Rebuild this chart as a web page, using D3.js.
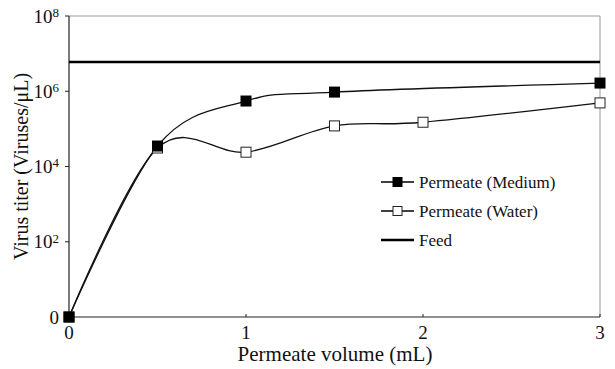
<!DOCTYPE html>
<html>
<head>
<meta charset="utf-8">
<script src="https://cdn.jsdelivr.net/npm/d3@7"></script>
<style>
  body { margin: 0; background: #fff; }
  text { font-family: "Liberation Serif", "Times New Roman", serif; fill: #111; }
</style>
</head>
<body>
<div id="chart"></div>
<script>
const volumes = [0, 0.5, 1, 1.5, 2, 3];
const mediumX = [0, 0.5, 1, 1.5, 3];
const mediumTiter = [1, 3.5e4, 5.5e5, 9.5e5, 1.65e6];
const waterX = [0, 0.5, 1, 1.5, 2, 3];
const waterTiter = [1, 3.1e4, 2.4e4, 1.2e5, 1.5e5, 4.9e5];
const feedTiter = 6e6;
const yTicks = [1, 1e2, 1e4, 1e6, 1e8];
const xTicks = [0, 1, 2, 3];
const legendLabels = ["Permeate (Medium)", "Permeate (Water)", "Feed"];

const W = 615, H = 369;
const margin = { top: 16, right: 15, bottom: 52, left: 69 };
const width = W - margin.left - margin.right;
const height = H - margin.top - margin.bottom;

const svg = d3.select("#chart").append("svg")
  .attr("width", W).attr("height", H);
const g = svg.append("g")
  .attr("transform", `translate(${margin.left},${margin.top})`);

const x = d3.scaleLinear().domain([0, 3]).range([0, width]);
const y = d3.scaleLog().domain([1, 1e8]).range([height, 0]);

// frame (top/right grey)
g.append("path")
  .attr("d", `M0,0H${width}V${height}`)
  .attr("fill", "none").attr("stroke", "#999").attr("stroke-width", 1);

// y axis
g.append("line").attr("x1", 0).attr("x2", 0).attr("y1", 0).attr("y2", height)
  .attr("stroke", "#222").attr("stroke-width", 1.2);
const yt = g.selectAll(".ytick").data(yTicks).enter().append("g")
  .attr("transform", d => `translate(0,${y(d)})`);
yt.append("line").attr("x1", -4).attr("x2", 0).attr("stroke", "#222");
const ylab = yt.append("text")
  .attr("x", -10).attr("dy", "0.35em")
  .attr("text-anchor", "end").style("font-size", "19px");
ylab.each(function(d) {
  const t = d3.select(this);
  if (d === 1) { t.text("0"); return; }
  t.append("tspan").text("10");
  t.append("tspan").attr("dy", "-0.45em").style("font-size", "13px")
    .text(Math.round(Math.log10(d)));
});

// x axis
g.append("line").attr("x1", 0).attr("x2", width).attr("y1", height).attr("y2", height)
  .attr("stroke", "#222").attr("stroke-width", 1.2);
const xt = g.selectAll(".xtick").data(xTicks).enter().append("g")
  .attr("transform", d => `translate(${x(d)},${height})`);
xt.append("line").attr("y1", -3).attr("y2", 0).attr("stroke", "#222");
xt.append("text").attr("y", 22).attr("text-anchor", "middle")
  .style("font-size", "19px").text(d => d);

// axis titles
svg.append("text")
  .attr("x", margin.left + width / 2 + 0.5).attr("y", 361)
  .attr("text-anchor", "middle").style("font-size", "21px")
  .text("Permeate volume (mL)");
svg.append("text")
  .attr("transform", `translate(28,${margin.top + height / 2}) rotate(-90)`)
  .attr("text-anchor", "middle").style("font-size", "20px")
  .text("Virus titer (Viruses/μL)");

// feed line
g.append("line")
  .attr("x1", 0).attr("x2", width)
  .attr("y1", y(feedTiter)).attr("y2", y(feedTiter))
  .attr("stroke", "#000").attr("stroke-width", 2.5);

const line = d3.line().curve(d3.curveCatmullRom.alpha(0))
  .x(d => x(d[0])).y(d => y(d[1]));

const medium = mediumX.map((v, i) => [v, mediumTiter[i]]);
const water = waterX.map((v, i) => [v, waterTiter[i]]);

g.append("path").datum(water).attr("d", line)
  .attr("fill", "none").attr("stroke", "#111").attr("stroke-width", 1.3);
g.append("path").datum(medium).attr("d", line)
  .attr("fill", "none").attr("stroke", "#111").attr("stroke-width", 1.3);

g.selectAll(".wpt").data(water).enter().append("rect")
  .attr("x", d => x(d[0]) - 5).attr("y", d => y(d[1]) - 5)
  .attr("width", 10).attr("height", 10)
  .attr("fill", "#fff").attr("stroke", "#222").attr("stroke-width", 1);
g.selectAll(".mpt").data(medium).enter().append("rect")
  .attr("x", d => x(d[0]) - 5.5).attr("y", d => y(d[1]) - 5.5)
  .attr("width", 11).attr("height", 11)
  .attr("fill", "#000");

// legend
const leg = svg.append("g").attr("transform", "translate(381,182)");
legendLabels.forEach((lab, i) => {
  const row = leg.append("g").attr("transform", `translate(0,${i * 29})`);
  row.append("line").attr("x1", 0).attr("x2", 33)
    .attr("stroke", "#000").attr("stroke-width", i === 2 ? 2.5 : 1.3);
  if (i === 0) row.append("rect").attr("x", 11.5).attr("y", -5).attr("width", 10).attr("height", 10).attr("fill", "#000");
  if (i === 1) row.append("rect").attr("x", 12).attr("y", -4.5).attr("width", 9).attr("height", 9)
    .attr("fill", "#fff").attr("stroke", "#222");
  row.append("text").attr("x", 38).attr("dy", "0.35em")
    .style("font-size", "17px").text(lab);
});
</script>
</body>
</html>
